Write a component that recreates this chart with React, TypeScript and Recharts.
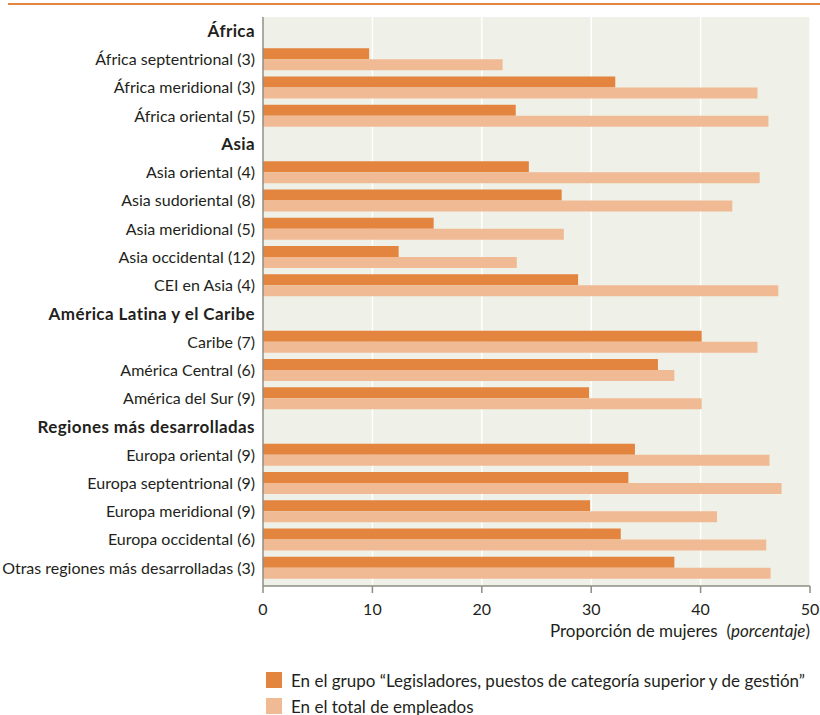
import { BarChart, Bar, XAxis, YAxis, CartesianGrid, Legend } from "recharts";

const regions = [
    "África",
    "África septentrional (3)",
    "África meridional (3)",
    "África oriental (5)",
    "Asia",
    "Asia oriental (4)",
    "Asia sudoriental (8)",
    "Asia meridional (5)",
    "Asia occidental (12)",
    "CEI en Asia (4)",
    "América Latina y el Caribe",
    "Caribe (7)",
    "América Central (6)",
    "América del Sur (9)",
    "Regiones más desarrolladas",
    "Europa oriental (9)",
    "Europa septentrional (9)",
    "Europa meridional (9)",
    "Europa occidental (6)",
    "Otras regiones más desarrolladas (3)",
]

const headers = ["África", "Asia", "América Latina y el Caribe", "Regiones más desarrolladas"]

// null = fila de encabezado, sin barras
const legisladores = [null, 9.7, 32.2, 23.1, null, 24.3, 27.3, 15.6, 12.4, 28.8, null, 40.1, 36.1, 29.8, null, 34.0, 33.4, 29.9, 32.7, 37.6]
const totalEmpleados = [null, 21.9, 45.2, 46.2, null, 45.4, 42.9, 27.5, 23.2, 47.1, null, 45.2, 37.6, 40.1, null, 46.3, 47.4, 41.5, 46.0, 46.4]

const xTicks = [0, 10, 20, 30, 40, 50]

const seriesNames = [
    "En el grupo “Legisladores, puestos de categoría superior y de gestión”",
    "En el total de empleados",
]

const DARK = "#E3843F"
const LIGHT = "#F0BB94"
const TEXT = "#231F20"
const AXIS = "#8E8E84"
const FONT = "Lato, sans-serif"

const data = regions.map((name, i) => ({
    name,
    legisladores: legisladores[i],
    total: totalEmpleados[i],
}))

function RegionTick({ x, y, payload }: any) {
    const bold = headers.includes(payload.value)
    return (
        <text
            x={x}
            y={y}
            dy="0.355em"
            textAnchor="end"
            fill={TEXT}
            fontSize={bold ? 17 : 16}
            fontWeight={bold ? 700 : 400}
            letterSpacing={bold ? 0.4 : 0}
            fontFamily={FONT}
        >
            {payload.value}
        </text>
    )
}

function AxisTitle({ viewBox }: any) {
    const { x, y, width } = viewBox
    return (
        <text x={x + width} y={y + 51} textAnchor="end" fill={TEXT} fontSize={17} fontFamily={FONT}>
            Proporción de mujeres{"\u00A0 "}(<tspan fontStyle="italic">porcentaje</tspan>)
        </text>
    )
}

function LegendBox() {
    const colors = [DARK, LIGHT]
    return (
        <div style={{ fontFamily: FONT, fontSize: 17, color: TEXT }}>
            {seriesNames.map((s, i) => (
                <div key={s} style={{ display: "flex", alignItems: "center", height: 26 }}>
                    <span style={{ width: 16, height: 16, background: colors[i], marginRight: 9, flexShrink: 0 }} />
                    <span style={{ whiteSpace: "nowrap" }}>{s}</span>
                </div>
            ))}
        </div>
    )
}

export default function App() {
    return (
        <div style={{ position: "relative", width: 820, height: 715, overflow: "hidden", background: "#fff" }}>
            <style>{"body{margin:0}"}</style>
            <div style={{ position: "absolute", left: 8, top: 3, width: 812, height: 2, background: DARK }} />
            <BarChart
                width={820}
                height={715}
                data={data}
                layout="vertical"
                margin={{ top: 17, right: 10, left: 0, bottom: 69 }}
                barSize={11}
                barGap={0}
            >
                <CartesianGrid horizontal={false} fill="#EFF0E7" stroke="#ffffff" strokeWidth={1.5} />
                <XAxis
                    type="number"
                    domain={[0, 50]}
                    ticks={xTicks}
                    height={60}
                    stroke={AXIS}
                    strokeWidth={1.5}
                    tickSize={7}
                    tickMargin={11}
                    tick={{ fill: TEXT, fontSize: 16, fontFamily: FONT }}
                    label={{ content: (p: any) => <AxisTitle {...p} /> }}
                />
                <YAxis
                    type="category"
                    dataKey="name"
                    width={263}
                    interval={0}
                    tickLine={false}
                    stroke={AXIS}
                    strokeWidth={1.5}
                    padding={{ top: 0, bottom: 4 }}
                    tick={<RegionTick />}
                />
                <Legend
                    layout="horizontal"
                    verticalAlign="middle"
                    align="center"
                    wrapperStyle={{ top: 667, left: 266, width: 550 }}
                    content={() => <LegendBox />}
                />
                <Bar dataKey="legisladores" name={seriesNames[0]} fill={DARK} isAnimationActive={false} />
                <Bar dataKey="total" name={seriesNames[1]} fill={LIGHT} isAnimationActive={false} />
            </BarChart>
        </div>
    )
}
